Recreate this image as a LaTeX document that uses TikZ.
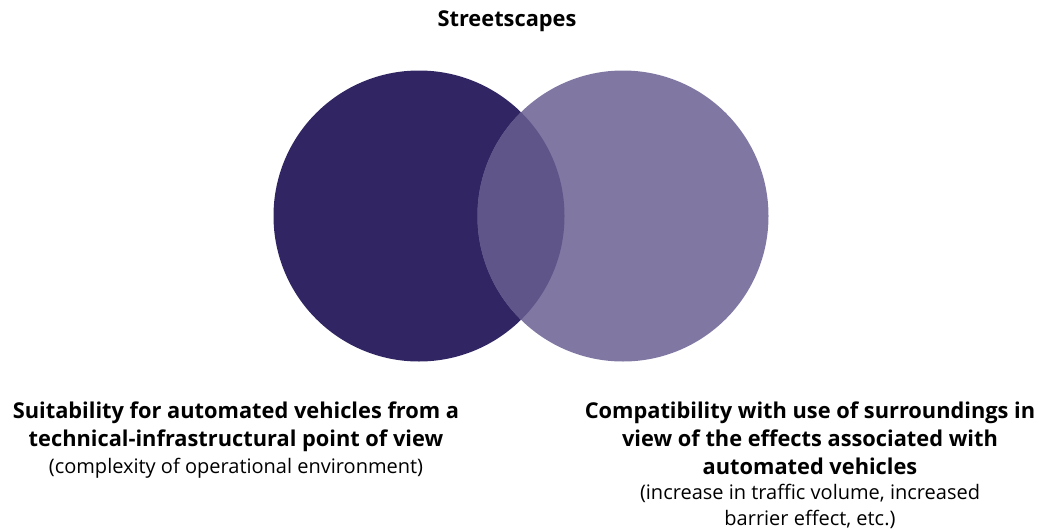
\documentclass[tikz,border=0pt]{standalone}
\usepackage{fontspec}
\setmainfont{Open Sans}
\definecolor{cdark}{HTML}{312663}
\definecolor{clight}{HTML}{8078A3}
\definecolor{cmid}{HTML}{5F5589}
\begin{document}
\begin{tikzpicture}[x=1pt,y=-1pt,
  head/.style={font=\fontsize{21.8}{28}\selectfont\bfseries, align=center, inner sep=0pt},
  sub/.style={font=\fontsize{20}{26}\selectfont, align=center, inner sep=0pt}]
\useasboundingbox (0,0) rectangle (1047,530);
\fill[cdark] (419,216) circle (145.5);
\fill[clight] (623,216) circle (145.5);
\begin{scope}
  \clip (419,216) circle (145.5);
  \fill[cmid] (623,216) circle (145.5);
\end{scope}
\node[head] (title) at (507,21) {Streetscapes};
\node[head, anchor=north] (lefthead) at (236,402) {Suitability for automated vehicles from a\\technical-infrastructural point of view};
\node[sub, anchor=base] (leftsub) at (236,473) {(complexity of operational environment)};
\node[head, anchor=north] (righthead) at (810,402) {Compatibility with use of surroundings in\\view of the effects associated with\\automated vehicles};
\node[sub, anchor=north] (rightsub) at (810,484) {(increase in traffic volume, increased\\barrier effect, etc.)};
\end{tikzpicture}
\end{document}
